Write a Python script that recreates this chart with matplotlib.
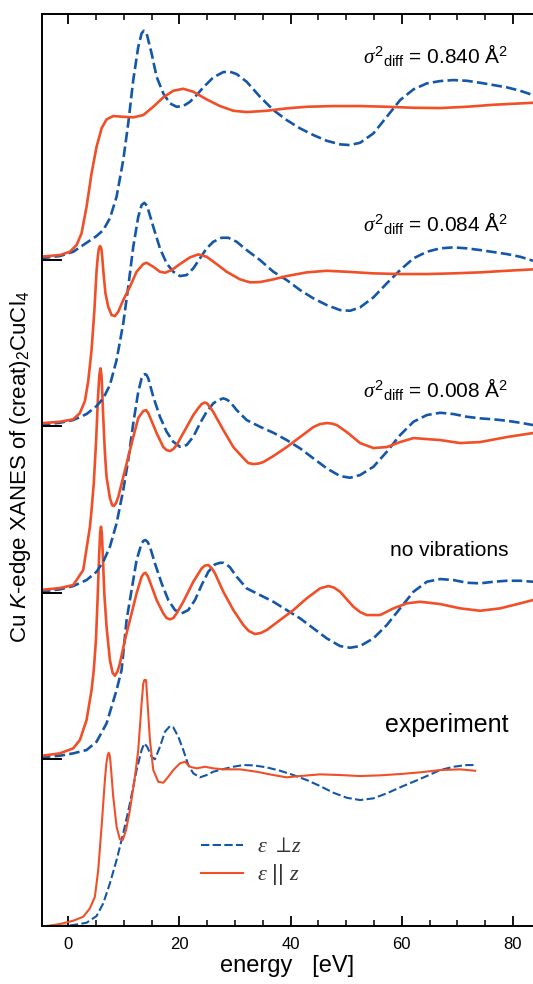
import matplotlib
matplotlib.use("Agg")
import matplotlib.pyplot as plt
from matplotlib.ticker import MultipleLocator

plt.rcParams['font.family'] = ['Liberation Sans', 'DejaVu Sans']
plt.rcParams['mathtext.fontset'] = 'custom'
plt.rcParams['mathtext.rm'] = 'Liberation Sans'
plt.rcParams['mathtext.it'] = 'Liberation Serif:italic'
plt.rcParams['mathtext.sf'] = 'Liberation Sans:italic'

RED = '#f04f28'
BLUE = '#1457a8'

# vertical offset of each spectrum (absorption units)
offsets = [0.0, 1.67, 3.33, 5.00, 6.66]
labels = ['experiment', 'no vibrations',
          r'$\sigma^2$$_{\rm diff}$ = 0.008 Å$^2$',
          r'$\sigma^2$$_{\rm diff}$ = 0.084 Å$^2$',
          r'$\sigma^2$$_{\rm diff}$ = 0.840 Å$^2$']
label_y = [1.94, 3.70, 5.29, 6.95, 8.63]
label_size = [18, 15, 15, 15, 15]

# --- experiment ---
exp_par_e = [-3.9, -1.5, 0.9, 2.7, 3.9, 4.8, 5.4, 6.0, 6.6, 6.85, 7.1, 7.3, 7.45,
             7.6, 8.1, 8.7, 9.3, 9.8, 10.4, 11.1, 12.0, 12.6, 13.2, 13.5, 13.7, 14.0,
             14.2, 14.7, 15.3, 16.2, 17.1, 18.0, 18.9, 20.1, 21.0, 21.9, 23.1, 24.6,
             26.1, 27.9, 30.9, 33.9, 36.9, 39.3, 41.7, 45.3, 48.9, 52.5, 56.1, 59.7,
             63.3, 66.9, 70.5, 73.2]
exp_par = [0.0, 0.02, 0.053, 0.093, 0.177, 0.293, 0.56, 0.993, 1.46, 1.62, 1.71,
           1.733, 1.71, 1.643, 1.293, 0.993, 0.867, 0.86, 0.96, 1.16, 1.493, 1.76,
           2.227, 2.427, 2.46, 2.46, 2.293, 1.86, 1.56, 1.443, 1.433, 1.493, 1.56,
           1.627, 1.643, 1.593, 1.577, 1.593, 1.577, 1.567, 1.567, 1.543, 1.51,
           1.487, 1.5, 1.517, 1.51, 1.5, 1.507, 1.52, 1.537, 1.56, 1.567, 1.553]
exp_perp_e = [-3.9, -1.5, 0.9, 3.3, 5.1, 6.3, 7.5, 8.7, 9.9, 11.1, 12.3, 13.2, 13.7,
              14.2, 15.0, 15.6, 16.5, 17.4, 18.3, 18.9, 19.8, 20.7, 21.6, 22.5, 23.7,
              24.9, 26.1, 27.9, 29.7, 31.5, 33.3, 35.7, 38.1, 40.5, 42.9, 45.3, 47.7,
              50.1, 52.5, 54.9, 57.3, 59.7, 62.1, 64.5, 66.9, 69.3, 71.7, 72.9]
exp_perp = [0.0, 0.0, 0.01, 0.033, 0.1, 0.227, 0.427, 0.66, 0.927, 1.227, 1.56,
            1.76, 1.827, 1.793, 1.693, 1.667, 1.793, 1.943, 2.0, 1.987, 1.893, 1.76,
            1.61, 1.527, 1.487, 1.51, 1.543, 1.57, 1.593, 1.61, 1.607, 1.587, 1.553,
            1.51, 1.46, 1.4, 1.333, 1.283, 1.26, 1.277, 1.327, 1.387, 1.443, 1.5,
            1.56, 1.593, 1.61, 1.61]

# --- no vibrations ---
nv_par_e = [-5.1, -1.5, 0.9, 2.1, 3.3, 4.2, 4.6, 5.0, 5.3, 5.55, 5.75, 5.9, 6.05,
            6.25, 6.5, 6.9, 7.5, 8.0, 8.4, 8.9, 9.3, 10.2, 11.1, 12.3, 13.2, 13.6,
            13.9, 14.3, 14.7, 15.9, 17.1, 17.7, 18.3, 18.9, 19.5, 20.7, 22.5, 24.0,
            24.6, 25.2, 25.8, 26.4, 27.9, 29.7, 31.5, 32.5, 33.6, 34.6, 35.7, 38.1,
            40.5, 42.9, 45.3, 46.8, 47.8, 48.9, 51.3, 52.5, 53.7, 56.1, 58.5, 60.9,
            63.3, 66.9, 70.5, 74.1, 77.7, 81.3, 83.6]
nv_par = [0.03, 0.057, 0.107, 0.19, 0.39, 0.69, 0.89, 1.2, 1.62, 2.02, 2.27, 2.323,
          2.26, 2.0, 1.65, 1.32, 0.99, 0.86, 0.833, 0.88, 0.957, 1.19, 1.39, 1.657,
          1.823, 1.855, 1.863, 1.83, 1.773, 1.59, 1.457, 1.41, 1.397, 1.41, 1.457,
          1.573, 1.773, 1.907, 1.935, 1.94, 1.91, 1.857, 1.673, 1.49, 1.34, 1.28,
          1.25, 1.26, 1.29, 1.39, 1.49, 1.607, 1.707, 1.73, 1.715, 1.673, 1.523,
          1.47, 1.44, 1.44, 1.507, 1.557, 1.573, 1.55, 1.507, 1.483, 1.507, 1.557,
          1.59]
nv_perp_e = [-5.1, -1.5, 0.9, 3.3, 5.1, 6.9, 8.7, 9.6, 10.5, 11.4, 12.3, 13.2, 13.55,
             13.9, 14.3, 14.7, 15.6, 16.8, 18.0, 19.2, 20.4, 21.6, 22.8, 24.0, 25.2,
             26.4, 27.3, 27.9, 28.5, 29.1, 30.3, 32.1, 34.5, 36.9, 39.3, 41.7, 44.1,
             46.5, 48.9, 50.7, 52.5, 54.9, 57.3, 59.7, 62.1, 64.5, 66.9, 69.3, 71.7,
             74.1, 76.5, 78.9, 81.3, 83.6]
nv_perp = [0.017, 0.033, 0.057, 0.09, 0.173, 0.357, 0.69, 0.89, 1.39, 1.69, 1.99,
           2.157, 2.183, 2.19, 2.17, 2.123, 1.957, 1.757, 1.59, 1.49, 1.457, 1.49,
           1.59, 1.74, 1.873, 1.947, 1.962, 1.963, 1.945, 1.917, 1.823, 1.707, 1.64,
           1.573, 1.49, 1.407, 1.307, 1.207, 1.13, 1.113, 1.13, 1.207, 1.34, 1.507,
           1.673, 1.773, 1.8, 1.79, 1.763, 1.757, 1.773, 1.783, 1.783, 1.773]

# --- sigma^2 = 0.008 ---
s1_par_e = [-5.1, -1.5, 0.9, 2.7, 3.9, 4.2, 4.6, 5.0, 5.35, 5.6, 5.8, 6.0, 6.15,
            6.3, 6.6, 6.9, 7.5, 7.9, 8.2, 8.6, 9.0, 9.9, 10.8, 11.7, 12.6, 13.1, 13.5,
            14.0, 14.4, 14.7, 15.9, 17.1, 17.7, 18.3, 18.9, 19.5, 20.7, 22.5, 23.4,
            24.0, 24.5, 24.9, 25.5, 26.1, 27.9, 29.7, 31.5, 32.4, 33.3, 34.2, 35.1,
            36.9, 39.3, 41.7, 44.1, 45.3, 46.5, 47.4, 48.3, 50.1, 52.5, 54.9, 57.3,
            59.7, 62.1, 64.5, 66.9, 70.5, 74.1, 78.9, 83.6]
s1_par = [0.03, 0.05, 0.08, 0.23, 0.66, 0.83, 1.1, 1.5, 1.95, 2.18, 2.247, 2.17,
          1.97, 1.76, 1.4, 1.16, 0.95, 0.88, 0.87, 0.9, 0.96, 1.16, 1.36, 1.56, 1.75,
          1.79, 1.82, 1.83, 1.8, 1.76, 1.6, 1.46, 1.43, 1.42, 1.44, 1.48, 1.6, 1.78,
          1.85, 1.89, 1.905, 1.9, 1.86, 1.81, 1.63, 1.46, 1.35, 1.3, 1.29, 1.295,
          1.31, 1.37, 1.46, 1.56, 1.66, 1.69, 1.70, 1.695, 1.68, 1.61, 1.50, 1.45,
          1.46, 1.51, 1.55, 1.54, 1.53, 1.50, 1.51, 1.56, 1.60]
s1_perp_e = [-5.1, -1.5, 0.9, 3.3, 5.1, 6.3, 7.5, 8.7, 9.9, 10.8, 11.7, 12.6, 13.2,
             13.5, 13.8, 14.1, 14.4, 15.3, 16.5, 17.7, 18.9, 20.1, 21.3, 22.5, 23.7,
             24.9, 26.1, 27.0, 27.9, 28.5, 29.1, 30.3, 32.1, 34.5, 36.9, 39.3, 41.7,
             44.1, 46.5, 48.9, 50.7, 52.5, 54.9, 57.3, 59.7, 62.1, 64.5, 66.9, 69.3,
             71.7, 74.1, 76.5, 78.9, 81.3, 83.6]
s1_perp = [0.013, 0.037, 0.07, 0.13, 0.213, 0.313, 0.463, 0.697, 1.03, 1.33, 1.697,
           2.013, 2.147, 2.18, 2.19, 2.18, 2.147, 1.963, 1.763, 1.613, 1.513, 1.463,
           1.48, 1.563, 1.697, 1.813, 1.897, 1.93, 1.947, 1.935, 1.913, 1.83, 1.73,
           1.663, 1.603, 1.53, 1.447, 1.347, 1.247, 1.17, 1.153, 1.18, 1.263, 1.413,
           1.58, 1.713, 1.78, 1.803, 1.79, 1.763, 1.747, 1.737, 1.723, 1.703, 1.68]

# --- sigma^2 = 0.084 ---
s2_par_e = [-5.1, -1.5, 0.9, 2.1, 3.0, 3.6, 4.2, 4.7, 5.1, 5.3, 5.5, 5.7, 5.85, 6.0,
            6.15, 6.3, 6.7, 7.2, 7.8, 8.4, 9.0, 9.9, 11.1, 12.3, 13.5, 14.1, 15.3,
            16.5, 17.4, 18.6, 20.1, 21.9, 23.4, 24.9, 26.7, 28.5, 30.9, 32.7, 34.5,
            36.9, 39.3, 42.9, 46.5, 50.1, 54.9, 59.7, 64.5, 69.3, 74.1, 78.9, 83.6]
s2_par = [0.027, 0.043, 0.067, 0.13, 0.25, 0.45, 0.76, 1.15, 1.55, 1.68, 1.77, 1.8,
          1.79, 1.76, 1.67, 1.56, 1.327, 1.193, 1.11, 1.1, 1.143, 1.26, 1.393, 1.543,
          1.62, 1.633, 1.593, 1.543, 1.533, 1.56, 1.62, 1.687, 1.717, 1.693, 1.62,
          1.543, 1.467, 1.437, 1.44, 1.467, 1.5, 1.537, 1.553, 1.543, 1.527, 1.52,
          1.52, 1.527, 1.537, 1.553, 1.567]
s2_perp_e = [-5.1, -1.5, 0.9, 3.3, 5.1, 6.3, 7.5, 8.7, 9.9, 10.8, 11.7, 12.6, 13.2,
             13.7, 14.2, 15.3, 16.5, 17.7, 18.9, 20.1, 21.3, 22.5, 23.7, 24.9, 26.1,
             27.6, 28.8, 30.3, 32.1, 34.5, 36.9, 39.3, 41.7, 44.1, 46.5, 48.9, 50.7,
             52.5, 54.9, 57.3, 59.7, 62.1, 64.5, 66.9, 69.3, 71.7, 74.1, 76.5, 78.9,
             81.3, 83.6]
s2_perp = [0.01, 0.033, 0.06, 0.12, 0.2, 0.277, 0.41, 0.66, 1.027, 1.393, 1.793,
           2.093, 2.21, 2.233, 2.2, 1.993, 1.777, 1.627, 1.543, 1.5, 1.51, 1.577,
           1.677, 1.777, 1.843, 1.883, 1.883, 1.843, 1.76, 1.66, 1.543, 1.46, 1.36,
           1.277, 1.21, 1.16, 1.153, 1.187, 1.287, 1.427, 1.56, 1.677, 1.743, 1.777,
           1.787, 1.777, 1.76, 1.74, 1.72, 1.693, 1.653]

# --- sigma^2 = 0.840 ---
s3_par_e = [-5.1, -1.5, 0.3, 1.5, 2.4, 3.3, 4.2, 5.1, 6.0, 6.9, 8.1, 9.9, 11.7, 13.5,
            15.3, 17.1, 18.9, 20.7, 22.5, 24.9, 27.3, 29.7, 32.1, 35.7, 39.3, 42.9,
            47.7, 52.5, 57.3, 62.1, 66.9, 71.7, 76.5, 83.6]
s3_par = [0.033, 0.05, 0.083, 0.15, 0.267, 0.533, 0.867, 1.133, 1.317, 1.407, 1.44,
          1.433, 1.427, 1.45, 1.533, 1.627, 1.693, 1.713, 1.683, 1.607, 1.54, 1.493,
          1.48, 1.493, 1.517, 1.533, 1.54, 1.54, 1.533, 1.523, 1.52, 1.533, 1.553,
          1.573]
s3_perp_e = [-5.1, -1.5, 0.9, 3.3, 5.1, 6.3, 7.5, 8.7, 9.9, 10.8, 11.7, 12.6, 13.2,
             13.6, 14.1, 15.0, 15.9, 17.1, 18.3, 19.5, 20.7, 21.9, 23.1, 24.3, 26.1,
             27.9, 29.1, 30.3, 32.1, 34.5, 36.9, 39.3, 41.7, 44.1, 46.5, 48.9, 50.7,
             52.5, 54.9, 57.3, 59.7, 62.1, 64.5, 66.9, 69.3, 71.7, 74.1, 76.5, 78.9,
             81.3, 83.6]
s3_perp = [0.017, 0.04, 0.083, 0.173, 0.24, 0.3, 0.417, 0.633, 1.0, 1.367, 1.8,
           2.133, 2.267, 2.293, 2.267, 2.067, 1.833, 1.667, 1.567, 1.533, 1.54, 1.583,
           1.65, 1.727, 1.827, 1.88, 1.883, 1.86, 1.783, 1.633, 1.5, 1.4, 1.317, 1.25,
           1.193, 1.157, 1.15, 1.173, 1.267, 1.433, 1.6, 1.707, 1.767, 1.79, 1.8,
           1.793, 1.773, 1.75, 1.727, 1.693, 1.65]

par_e = [exp_par_e, nv_par_e, s1_par_e, s2_par_e, s3_par_e]
par_y = [exp_par, nv_par, s1_par, s2_par, s3_par]
perp_e = [exp_perp_e, nv_perp_e, s1_perp_e, s2_perp_e, s3_perp_e]
perp_y = [exp_perp, nv_perp, s1_perp, s2_perp, s3_perp]

fig = plt.figure(figsize=(5.33, 9.84), dpi=100)
ax = fig.add_axes([0.0779, 0.0589, 0.9221, 0.9268])

for i, off in enumerate(offsets):
    lw = 1.5 if i == 0 else 1.9
    ax.plot(perp_e[i], [v + off for v in perp_y[i]], color=BLUE, lw=lw,
            linestyle=(0, (4, 1.6)), solid_joinstyle='round',
            label=r'$\varepsilon$ $\perp\!z$' if i == 0 else None)
    ax.plot(par_e[i], [v + off for v in par_y[i]], color=RED, lw=lw,
            solid_joinstyle='round',
            label=r'$\varepsilon$ || $z$' if i == 0 else None)
    if i > 0:
        # zero line marker of each shifted spectrum
        ax.plot([-4.8, -1.3], [off, off], color='black', lw=1.4)
    ax.text(79.2, label_y[i], labels[i], ha='right', va='baseline',
            fontsize=label_size[i])

ax.set_xlim(-4.8, 83.6)
ax.set_ylim(0, 9.12)
ax.xaxis.set_major_locator(MultipleLocator(20))
ax.xaxis.set_minor_locator(MultipleLocator(5))
ax.tick_params(axis='x', which='both', direction='in', top=True, labelsize=12,
               pad=8)
ax.tick_params(axis='x', which='major', length=7, width=1.3)
ax.tick_params(axis='x', which='minor', length=4, width=1.1)
ax.set_yticks([])
ax.spines['right'].set_visible(False)
for s in ['left', 'top', 'bottom']:
    ax.spines[s].set_linewidth(1.4)

ax.set_xlabel('energy   [eV]', fontsize=17, labelpad=2)
ax.set_ylabel(r'Cu $\mathsf{K}$-edge XANES of (creat)$_2$CuCl$_4$', fontsize=16,
              va='center')
ax.yaxis.set_label_coords(-0.043, 0.504)

leg = ax.legend(loc='lower left', bbox_to_anchor=(0.284, 0.0205), frameon=False,
                fontsize=16, handlelength=1.9, labelspacing=0.22,
                handletextpad=0.6)
for t in leg.get_texts():
    t.set_color('#333333')

fig.savefig('out.png', dpi=100)
